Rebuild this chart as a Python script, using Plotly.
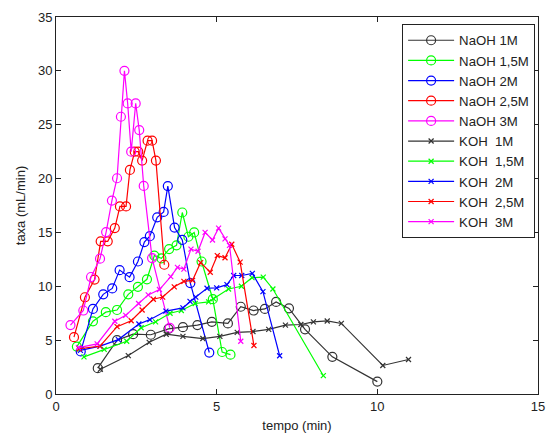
import plotly.graph_objects as go

# ---- data ----
naoh1_x = [1.3, 1.9, 2.4, 2.95, 3.5, 3.95, 4.4, 4.85, 5.35, 5.75, 6.15, 6.5, 6.85, 7.25, 7.75, 8.6, 10.0]
naoh1_y = [2.4, 5.0, 5.55, 5.5, 6.05, 6.2, 6.4, 6.7, 6.55, 8.1, 7.75, 7.9, 8.55, 7.95, 6.0, 3.45, 1.15]

naoh15_x = [0.65, 1.15, 1.55, 1.9, 2.25, 2.55, 2.83, 3.06, 3.28, 3.52, 3.75, 3.93, 4.12, 4.3, 4.53, 4.88, 5.17, 5.43]
naoh15_y = [4.4, 6.75, 7.6, 7.8, 9.25, 9.95, 10.65, 12.85, 12.6, 13.45, 13.8, 16.85, 14.6, 15.0, 12.3, 8.8, 3.9, 3.65]

naoh2_x = [0.77, 1.15, 1.47, 1.75, 1.98, 2.29, 2.55, 2.75, 2.92, 3.15, 3.35, 3.48, 3.69, 3.93, 4.18, 4.77]
naoh2_y = [3.95, 7.9, 9.25, 9.8, 11.5, 10.85, 12.3, 14.1, 14.65, 16.4, 16.9, 19.3, 15.45, 14.3, 10.3, 3.85]

naoh25_x = [0.56, 0.9, 1.2, 1.39, 1.61, 1.83, 1.99, 2.18, 2.3, 2.45, 2.56, 2.68, 2.85, 2.99, 3.11, 3.37]
naoh25_y = [5.28, 8.98, 10.62, 14.17, 14.17, 15.4, 17.41, 17.41, 20.8, 22.5, 22.5, 21.67, 23.52, 23.52, 21.67, 12.0]

naoh3_x = [0.45, 0.85, 1.09, 1.37, 1.56, 1.74, 1.9, 2.02, 2.13, 2.23, 2.34, 2.48, 2.59, 2.73, 2.99, 3.54]
naoh3_y = [6.4, 7.75, 10.86, 12.56, 15.03, 17.96, 20.03, 25.74, 30.0, 26.98, 22.5, 26.98, 24.5, 19.32, 12.62, 6.14]

koh1_x = [1.38, 2.25, 2.9, 3.43, 3.95, 4.57, 5.1, 5.64, 6.13, 6.62, 7.14, 7.62, 8.01, 8.44, 8.88, 10.17, 10.97]
koh1_y = [2.3, 3.57, 4.8, 5.55, 5.35, 5.15, 5.35, 5.72, 5.8, 6.0, 6.4, 6.45, 6.7, 6.78, 6.55, 2.65, 3.2]

koh15_x = [0.87, 1.5, 2.2, 2.65, 3.1, 3.55, 3.9, 4.33, 4.75, 4.9, 5.37, 5.77, 6.1, 6.45, 6.75, 8.32]
koh15_y = [3.45, 4.15, 4.9, 6.15, 6.7, 7.5, 7.75, 8.4, 8.55, 8.85, 9.75, 10.0, 10.8, 10.85, 9.75, 1.7]

koh2_x = [0.76, 1.37, 1.94, 2.58, 2.92, 3.42, 3.95, 4.17, 4.35, 4.7, 5.0, 5.32, 5.53, 5.78, 6.11, 6.44, 6.96]
koh2_y = [4.05, 4.45, 5.05, 6.5, 6.9, 7.7, 8.0, 8.6, 9.0, 9.82, 9.85, 10.15, 11.0, 11.0, 11.2, 9.5, 3.55]

koh25_x = [0.72, 1.37, 1.9, 2.34, 2.68, 3.03, 3.32, 3.68, 3.98, 4.25, 4.5, 4.8, 5.02, 5.26, 5.47, 5.73, 6.16]
koh25_y = [4.2, 4.45, 6.25, 6.8, 7.8, 8.8, 9.0, 9.95, 10.45, 10.55, 12.2, 11.3, 12.85, 12.65, 13.9, 12.25, 4.5]

koh3_x = [0.7, 1.28, 1.83, 2.17, 2.57, 2.87, 3.22, 3.57, 3.78, 3.98, 4.2, 4.42, 4.64, 4.87, 5.06, 5.26, 5.4, 5.75]
koh3_y = [4.3, 4.65, 6.75, 7.3, 8.4, 9.2, 9.7, 10.9, 11.75, 11.6, 13.45, 13.25, 15.0, 14.3, 15.4, 14.4, 13.8, 4.9]

names = ["NaOH 1M", "NaOH 1,5M", "NaOH 2M", "NaOH 2,5M", "NaOH 3M",
         "KOH\u00a0 1M", "KOH\u00a0 1,5M", "KOH\u00a0 2M", "KOH\u00a0 2,5M", "KOH\u00a0 3M"]
colors = ["#333333", "#00ff00", "#0000ff", "#ff0000", "#ff00ff"]

series = [
    (naoh1_x, naoh1_y), (naoh15_x, naoh15_y), (naoh2_x, naoh2_y), (naoh25_x, naoh25_y), (naoh3_x, naoh3_y),
    (koh1_x, koh1_y), (koh15_x, koh15_y), (koh2_x, koh2_y), (koh25_x, koh25_y), (koh3_x, koh3_y),
]

fig = go.Figure()
for i, ((xs, ys), name) in enumerate(zip(series, names)):
    col = colors[i % 5]
    if i < 5:
        marker = dict(symbol="circle-open", size=9, color=col, line=dict(width=1.2, color=col))
    else:
        marker = dict(symbol="x-thin-open", size=5, color=col, line=dict(width=1.2, color=col))
    fig.add_trace(go.Scatter(x=xs, y=ys, mode="lines+markers", name=name,
                             line=dict(color=col, width=1.2), marker=marker))

font = dict(family="Liberation Sans, Arial, sans-serif", size=13, color="#222222")
legend_font = dict(family="Liberation Sans, Arial, sans-serif", size=13.2, color="#222222")
axis_common = dict(showline=True, linecolor="#222222", linewidth=1, mirror="ticks",
                   ticks="inside", ticklen=5, tickcolor="#222222", showgrid=False,
                   zeroline=False, tickfont=font, automargin=False)

fig.update_layout(
    width=546, height=433,
    margin=dict(l=56, r=8, t=17, b=39, autoexpand=False),
    paper_bgcolor="white", plot_bgcolor="white",
    font=font,
    xaxis=dict(range=[0, 15], tickvals=[0, 5, 10, 15],
               title=dict(text="tempo (min)", font=font, standoff=10), **axis_common),
    yaxis=dict(range=[0, 35], tickvals=[0, 5, 10, 15, 20, 25, 30, 35],
               title=dict(text="taxa (mL/min)", font=font, standoff=9), **axis_common),
    legend=dict(x=0.994, y=0.981, xanchor="right", yanchor="top",
                bgcolor="white", bordercolor="#222222", borderwidth=1,
                font=legend_font, tracegroupgap=0, itemwidth=46),
    showlegend=True,
)

fig.write_html("out.html")
